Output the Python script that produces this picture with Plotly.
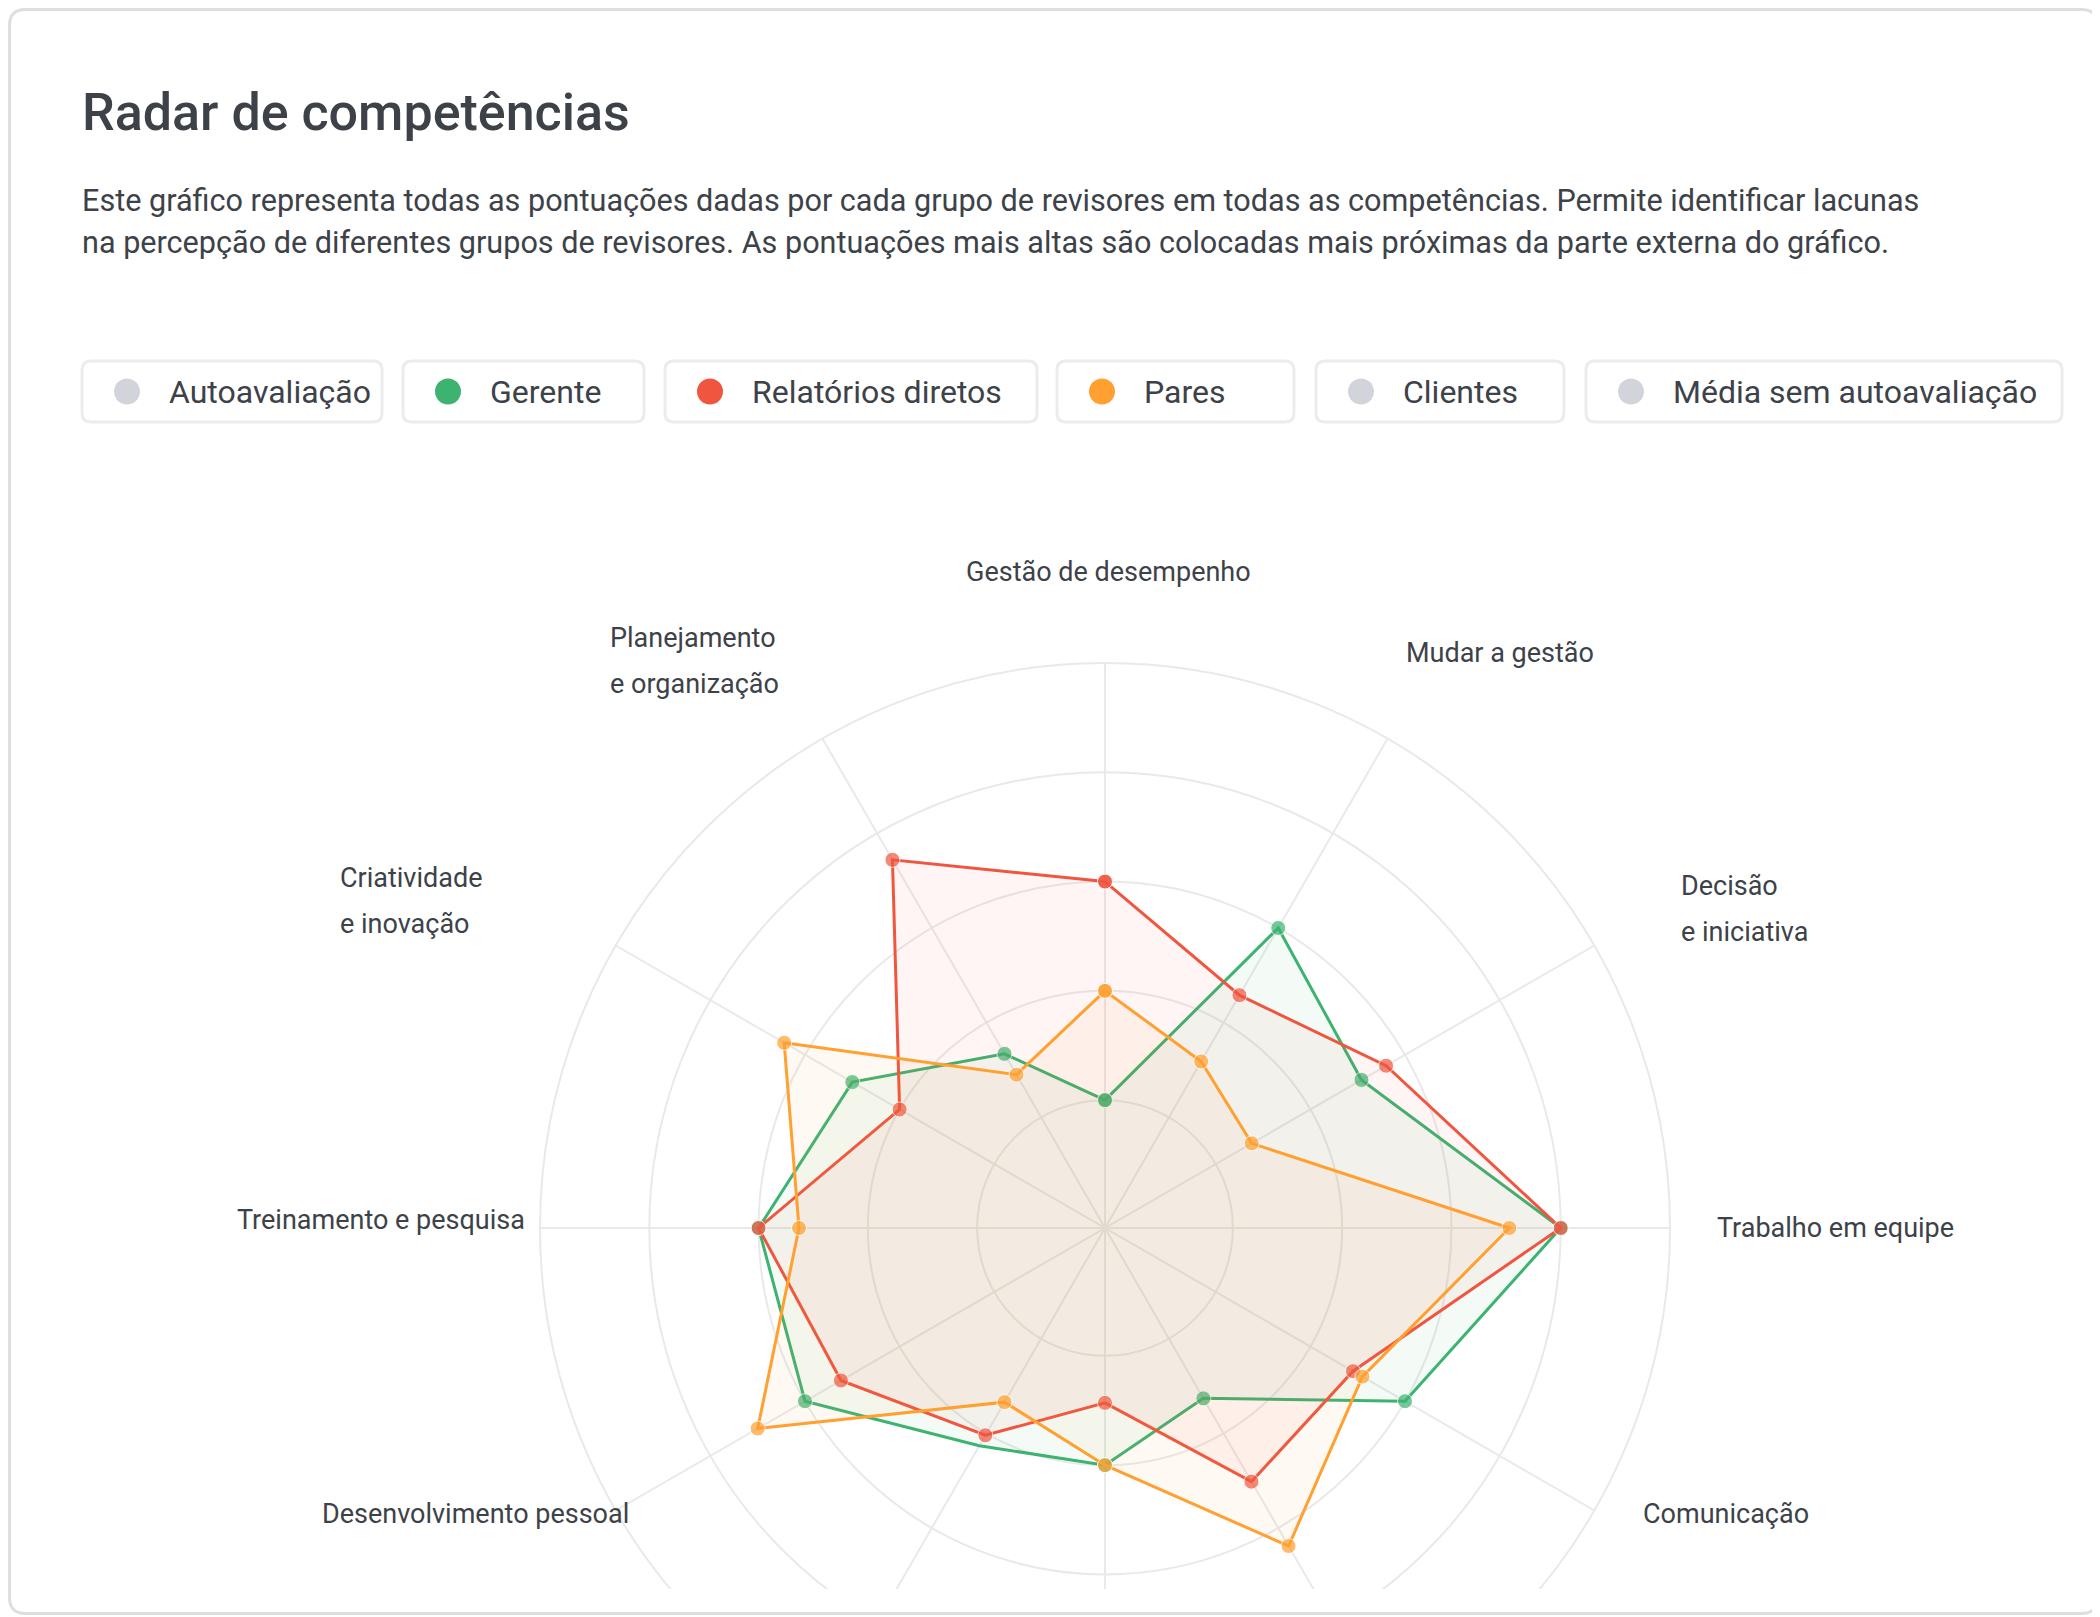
import plotly.graph_objects as go

# competências, em sentido horário a partir do topo
# (os rótulos dos três eixos de baixo ficam cortados na imagem original)
competencias = [
    "Gestão de desempenho", "Mudar a gestão", "Decisão e iniciativa",
    "Trabalho em equipe", "Comunicação", "Competência 6", "Competência 7",
    "Competência 8", "Desenvolvimento pessoal", "Treinamento e pesquisa",
    "Criatividade e inovação", "Planejamento e organização",
]

gerente = [1.0, 3.0, 2.54, 4.0, 3.0, 1.63, 2.0, 2.13, 3.0, 3.0, 2.5, 1.67]
relatorios_diretos = [3.0, 2.29, 2.8, 4.0, 2.45, 2.51, 1.43, 2.02, 2.62, 3.0, 2.0, 3.72]
pares = [2.0, 1.59, 1.38, 3.53, 2.55, 3.19, 2.0, 1.67, 3.5, 2.63, 3.22, 1.45]

grupos = ["Autoavaliação", "Gerente", "Relatórios diretos", "Pares",
          "Clientes", "Média sem autoavaliação"]
grupos_ativos = [False, True, True, True, False, False]

titulo = "Radar de competências"
descricao = [
    "Este gráfico representa todas as pontuações dadas por cada grupo de revisores em todas as competências. Permite identificar lacunas",
    "na percepção de diferentes grupos de revisores. As pontuações mais altas são colocadas mais próximas da parte externa do gráfico.",
]

W, H = 2100, 1800
MARGEM = 8  # margem do <body> da página
FONT = "Roboto"
TEXT = "#3d4249"
GRID = "#e9e9e9"
CINZA = "#d1d5db"
cores = {"Gerente": "#3cb371", "Relatórios diretos": "#f0553f", "Pares": "#ffa030"}


# posições em pixels da página -> coordenadas "paper"
def fx(x):
    return (x - MARGEM) / W


def fy(y):
    return 1 - (y - MARGEM) / H


def rrect(x0, y0, x1, y1, r):
    p = [("M", x0 + r, y0), ("L", x1 - r, y0), ("Q", x1, y0, x1, y0 + r),
         ("L", x1, y1 - r), ("Q", x1, y1, x1 - r, y1), ("L", x0 + r, y1),
         ("Q", x0, y1, x0, y1 - r), ("L", x0, y0 + r), ("Q", x0, y0, x0 + r, y0)]
    s = ""
    for seg in p:
        s += seg[0]
        pts = seg[1:]
        s += " ".join("%.5f,%.5f" % (fx(pts[i]), fy(pts[i + 1])) for i in range(0, len(pts), 2)) + " "
    return s + "Z"


def hex_rgba(h, a):
    h = h.lstrip("#")
    return "rgba(%d,%d,%d,%s)" % (int(h[0:2], 16), int(h[2:4], 16), int(h[4:6], 16), a)


fig = go.Figure()

series = [("Gerente", gerente), ("Relatórios diretos", relatorios_diretos), ("Pares", pares)]
for nome, valores in series:
    cor = cores[nome]
    tamanhos = [15] * len(valores)
    if nome == "Gerente":
        tamanhos[7] = 0  # sem marcador visível neste ponto na imagem
    fig.add_trace(go.Scatterpolar(
        r=valores + valores[:1],
        theta=competencias + competencias[:1],
        mode="lines+markers",
        name=nome,
        line=dict(color=cor, width=3),
        marker=dict(color=cor, size=tamanhos + tamanhos[:1]),
        fill="toself",
        fillcolor=hex_rgba(cor, 0.06),
        showlegend=False,
    ))

fig.update_layout(
    width=W, height=H,
    margin=dict(l=0, r=0, t=0, b=0),
    paper_bgcolor="white",
    plot_bgcolor="white",
    font=dict(family=FONT, color=TEXT),
    polar=dict(
        domain=dict(x=[fx(540), fx(1670)], y=[fy(1793), fy(663)]),
        bgcolor="rgba(0,0,0,0)",
        radialaxis=dict(range=[-0.17, 5], tickvals=[1, 2, 3, 4], showticklabels=False,
                        ticks="", showline=False, gridcolor=GRID, gridwidth=2),
        angularaxis=dict(direction="clockwise", rotation=90, showticklabels=False,
                         ticks="", showline=True, linecolor=GRID, linewidth=2,
                         gridcolor=GRID, gridwidth=2),
    ),
)

anns = []
anns.append(dict(text=titulo, x=fx(80), y=fy(112), xanchor="left", yanchor="middle",
                 font=dict(size=52, color=TEXT, weight=500)))
for i, linha in enumerate(descricao):
    anns.append(dict(text=linha, x=fx(80), y=fy(200 + 42 * i), xanchor="left", yanchor="middle",
                     font=dict(size=30.6, color=TEXT)))

# rótulos dos eixos
rotulos = [
    ("Gestão de desempenho", 1108, 572, "center"),
    ("Mudar a gestão", 1404, 653, "left"),
    ("Decisão", 1679, 886, "left"),
    ("e iniciativa", 1679, 932, "left"),
    ("Trabalho em equipe", 1715, 1228, "left"),
    ("Comunicação", 1641, 1514, "left"),
    ("Desenvolvimento pessoal", 320, 1514, "left"),
    ("Treinamento e pesquisa", 235, 1220, "left"),
    ("Criatividade", 338, 878, "left"),
    ("e inovação", 338, 924, "left"),
    ("Planejamento", 608, 638, "left"),
    ("e organização", 608, 684, "left"),
]
for txt, x, y, anc in rotulos:
    anns.append(dict(text=txt, x=fx(x), y=fy(y), xanchor=anc, yanchor="middle",
                     font=dict(size=27, color=TEXT)))

shapes = []
# legenda em caixas
caixas = [(82, 382), (403, 644), (665, 1037), (1057, 1294), (1316, 1564), (1586, 2062)]
for nome, ativo, (x0, x1) in zip(grupos, grupos_ativos, caixas):
    shapes.append(dict(type="path", path=rrect(x0, 361, x1, 422, 9), xref="paper", yref="paper",
                       line=dict(color="#ececec", width=3), fillcolor="white", layer="below"))
    cx, cy = x0 + 45, 391.5
    cor = cores[nome] if ativo else CINZA
    shapes.append(dict(type="circle", xref="paper", yref="paper",
                       x0=fx(cx - 13), x1=fx(cx + 13), y0=fy(cy + 13), y1=fy(cy - 13),
                       fillcolor=cor, line=dict(width=0), layer="above"))
    anns.append(dict(text=nome, x=fx(x0 + 85), y=fy(cy), xanchor="left", yanchor="middle",
                     font=dict(size=32, color=TEXT)))

# o gráfico é cortado na parte de baixo do cartão
shapes.append(dict(type="rect", xref="paper", yref="paper", x0=0, x1=1, y0=0, y1=fy(1589),
                   fillcolor="white", line=dict(width=0), layer="above"))
shapes.append(dict(type="path", path=rrect(9.5, 9.5, 2097.5, 1613.5, 16), xref="paper", yref="paper",
                   line=dict(color="#dedede", width=3), fillcolor="rgba(0,0,0,0)", layer="above"))

for a in anns:
    a.update(xref="paper", yref="paper", showarrow=False)

fig.update_layout(annotations=anns, shapes=shapes)

fig.write_html("out.html")
